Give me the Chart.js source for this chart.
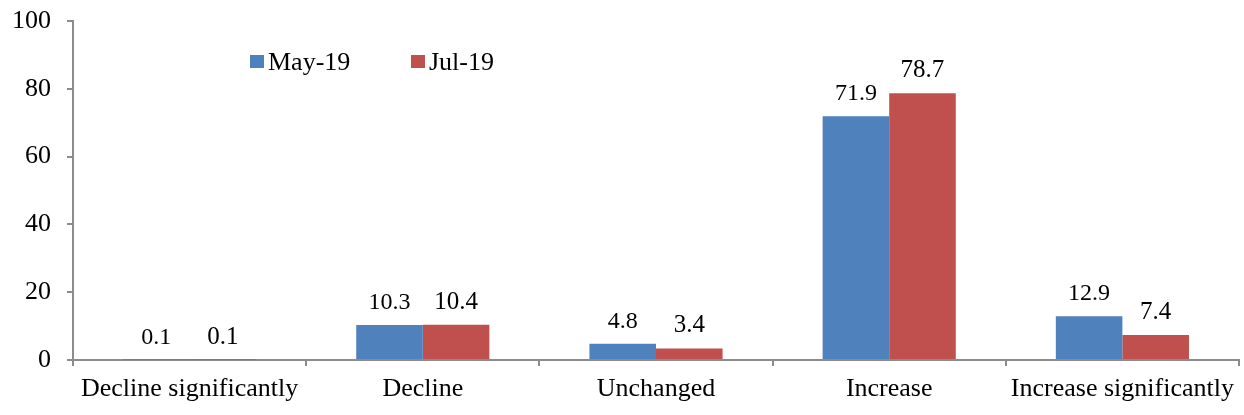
<!DOCTYPE html>
<html>
<head>
<meta charset="utf-8">
<script src="https://cdn.jsdelivr.net/npm/chart.js@4"></script>
<style>
  html, body { margin: 0; padding: 0; background: #fff; }
  #wrap { width: 1244px; height: 415px; position: relative; }
</style>
</head>
<body>
<div id="wrap"><canvas id="chart"></canvas></div>
<script>
const categories = ['Decline significantly', 'Decline', 'Unchanged', 'Increase', 'Increase significantly'];
const may19 = [0.1, 10.3, 4.8, 71.9, 12.9];
const jul19 = [0.1, 10.4, 3.4, 78.7, 7.4];
const seriesNames = ['May-19', 'Jul-19'];
const yTicks = [0, 20, 40, 60, 80, 100];

const FONT = "'Liberation Serif', 'Times New Roman', serif";
const BLUE = '#4f81bd';
const RED = '#c0504d';
const AXIS = '#8c8c8c';

// value labels above each bar
const barLabels = {
  id: 'barLabels',
  afterDatasetsDraw(chart) {
    const ctx = chart.ctx;
    ctx.save();
    ctx.fillStyle = '#000';
    ctx.textAlign = 'center';
    ctx.textBaseline = 'alphabetic';
    chart.data.datasets.forEach((ds, i) => {
      const meta = chart.getDatasetMeta(i);
      ctx.font = (i === 0 ? '24px ' : '25px ') + FONT;
      meta.data.forEach((bar, j) => {
        ctx.fillText(ds.data[j].toFixed(1), bar.x, bar.y - 16);
      });
    });
    ctx.restore();
  }
};

// legend drawn inside the plot, top left
const innerLegend = {
  id: 'innerLegend',
  afterDraw(chart) {
    const ctx = chart.ctx;
    const xs = [250, 411];
    ctx.save();
    ctx.font = '26px ' + FONT;
    ctx.textBaseline = 'middle';
    ctx.textAlign = 'left';
    chart.data.datasets.forEach((ds, i) => {
      ctx.fillStyle = ds.backgroundColor;
      ctx.fillRect(xs[i], 55, 14, 13);
      ctx.fillStyle = '#000';
      ctx.fillText(ds.label, xs[i] + 18, 63);
    });
    ctx.restore();
  }
};

new Chart(document.getElementById('chart'), {
  type: 'bar',
  data: {
    labels: categories,
    datasets: [
      { label: seriesNames[0], data: may19, backgroundColor: BLUE },
      { label: seriesNames[1], data: jul19, backgroundColor: RED }
    ]
  },
  options: {
    responsive: true,
    maintainAspectRatio: false,
    animation: false,
    layout: { padding: { top: 21, right: 5, left: 0, bottom: 0 } },
    datasets: { bar: { categoryPercentage: 0.571, barPercentage: 1.0 } },
    plugins: {
      legend: { display: false },
      tooltip: { enabled: false }
    },
    scales: {
      x: {
        afterFit(axis) { axis.height = 55; axis.paddingLeft = 0; axis.paddingRight = 0; },
        grid: { offset: true, drawOnChartArea: false, tickLength: 6, color: AXIS, lineWidth: 2 },
        border: { color: AXIS, width: 2 },
        ticks: { color: '#000', font: { family: FONT, size: 26 }, padding: 8, maxRotation: 0 }
      },
      y: {
        min: 0,
        max: 100,
        afterFit(axis) { axis.width = 73; axis.paddingTop = 0; axis.paddingBottom = 0; },
        afterBuildTicks(axis) { axis.ticks = yTicks.map(v => ({ value: v })); },
        grid: { drawOnChartArea: false, tickLength: 6, color: AXIS, lineWidth: 2 },
        border: { color: AXIS, width: 2 },
        ticks: { color: '#000', font: { family: FONT, size: 26 }, padding: 16 }
      }
    }
  },
  plugins: [barLabels, innerLegend]
});
</script>
</body>
</html>
